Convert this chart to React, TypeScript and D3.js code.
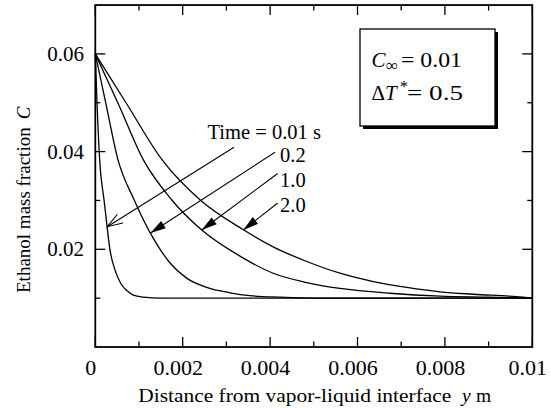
import React from "react";
import * as d3 from "d3";

// ---- data (distance y in m, ethanol mass fraction C) ----
const seriesLabels = ["0.01", "0.2", "1.0", "2.0"];

const curve001: [number, number][] = [
  [0, 0.06], [0.00004, 0.0499], [0.0001, 0.0383], [0.0002, 0.0301], [0.00027, 0.0246],
  [0.000336, 0.0199], [0.00045, 0.0158], [0.00059, 0.0129], [0.00073, 0.0115],
  [0.00087, 0.0106], [0.0011, 0.0102], [0.0015, 0.01], [0.01, 0.01],
];
const curve02: [number, number][] = [
  [0, 0.06], [0.00024, 0.0499], [0.00052, 0.0383], [0.00089, 0.0301], [0.00126, 0.0233],
  [0.00146, 0.0203], [0.00171, 0.0172], [0.00209, 0.0141], [0.00255, 0.0122],
  [0.00308, 0.0111], [0.00354, 0.0105], [0.00423, 0.0102], [0.00514, 0.01], [0.01, 0.01],
];
const curve10: [number, number][] = [
  [0, 0.06], [0.00052, 0.0499], [0.0011, 0.0383], [0.00175, 0.0301], [0.00243, 0.024],
  [0.00331, 0.0186], [0.00407, 0.0151], [0.00484, 0.0132], [0.0056, 0.012],
  [0.00674, 0.011], [0.00789, 0.0104], [0.00903, 0.0102], [0.01, 0.01],
];
const curve20: [number, number][] = [
  [0, 0.06], [0.00071, 0.0499], [0.00153, 0.0383], [0.0024, 0.0301], [0.00339, 0.024],
  [0.00407, 0.0205], [0.00484, 0.0175], [0.0056, 0.0151], [0.00636, 0.0134],
  [0.00713, 0.0122], [0.00789, 0.0113], [0.00865, 0.0108], [0.00964, 0.0103], [0.01, 0.01],
];
const curves = [curve001, curve02, curve10, curve20];

const xTickValues = [0, 0.002, 0.004, 0.006, 0.008, 0.01];
const xTickLabels = ["0", "0.002", "0.004", "0.006", "0.008", "0.01"];
const xMinorTicks = [0.001, 0.003, 0.005, 0.007, 0.009];
const yTickValues = [0.02, 0.04, 0.06];
const yTickLabels = ["0.02", "0.04", "0.06"];
const yMinorTicks = [0.01, 0.03, 0.05];

// annotation arrows: [start, tip] in data units
const arrowStarts: [number, number][] = [
  [0.003174, 0.04088], [0.004112, 0.03985], [0.004173, 0.03551], [0.004173, 0.02948],
];
const arrowTips: [number, number][] = [
  [0.000275, 0.02463], [0.001263, 0.02334], [0.002435, 0.02395], [0.003387, 0.02395],
];
const labelAnchors: [number, number][] = [
  [0.002569, 0.04258], [0.004227, 0.03793], [0.004227, 0.03281], [0.004227, 0.0277],
];

const W = 551, H = 408;
const L = 95.3, R = 532.3, T = 5.05, B = 347;
const FONT = "'Liberation Serif', 'Times New Roman', serif";

export default function App() {
  const x = d3.scaleLinear().domain([0, 0.01]).range([L, R]);
  const y = d3.scaleLinear().domain([0, 0.07]).range([B, T]);
  const line = d3
    .line<[number, number]>()
    .x((d) => x(d[0]))
    .y((d) => y(d[1]))
    .curve(d3.curveMonotoneX);

  const arrows = arrowStarts.map((s, i) => {
    const sx = x(s[0]), sy = y(s[1]);
    const tx = x(arrowTips[i][0]), ty = y(arrowTips[i][1]);
    const ang = Math.atan2(sy - ty, sx - tx);
    const len = 16;
    const spread = i === 0 ? 0.33 : 0.27;
    const p1 = [tx + len * Math.cos(ang + spread), ty + len * Math.sin(ang + spread)];
    const p2 = [tx + len * Math.cos(ang - spread), ty + len * Math.sin(ang - spread)];
    return { sx, sy, tx, ty, p1, p2, open: i === 0 };
  });

  return (
    <svg
      width={W}
      height={H}
      style={{ position: "absolute", left: 0, top: 0, background: "#fff" }}
      fontFamily={FONT}
    >
      <rect x={0} y={0} width={W} height={H} fill="#fff" />
      {/* curves */}
      {curves.map((c, i) => (
        <path key={i} d={line(c) || ""} fill="none" stroke="#000" strokeWidth={1.3} />
      ))}
      {/* frame */}
      <rect x={L} y={T} width={R - L} height={B - T} fill="none" stroke="#000" strokeWidth={1.8} />
      {/* x ticks */}
      {xTickValues.map((v) => (
        <g key={"xt" + v}>
          <line x1={x(v)} x2={x(v)} y1={B} y2={B - 10} stroke="#000" strokeWidth={1.3} />
          <line x1={x(v)} x2={x(v)} y1={T} y2={T + 10} stroke="#000" strokeWidth={1.3} />
        </g>
      ))}
      {xMinorTicks.map((v) => (
        <g key={"xm" + v}>
          <line x1={x(v)} x2={x(v)} y1={B} y2={B - 5.5} stroke="#000" strokeWidth={1.3} />
          <line x1={x(v)} x2={x(v)} y1={T} y2={T + 5.5} stroke="#000" strokeWidth={1.3} />
        </g>
      ))}
      {yTickValues.map((v) => (
        <g key={"yt" + v}>
          <line x1={L} x2={L + 10} y1={y(v)} y2={y(v)} stroke="#000" strokeWidth={1.3} />
          <line x1={R} x2={R - 10} y1={y(v)} y2={y(v)} stroke="#000" strokeWidth={1.3} />
        </g>
      ))}
      {yMinorTicks.map((v) => (
        <g key={"ym" + v}>
          <line x1={L} x2={L + 5} y1={y(v)} y2={y(v)} stroke="#000" strokeWidth={1.3} />
          <line x1={R} x2={R - 5} y1={y(v)} y2={y(v)} stroke="#000" strokeWidth={1.3} />
        </g>
      ))}
      {/* tick labels */}
      {xTickValues.map((v, i) => (
        <text key={"xl" + v} x={x(v) - 4.5} y={375} fontSize={22} textAnchor="middle">
          {xTickLabels[i]}
        </text>
      ))}
      {yTickValues.map((v, i) => (
        <text key={"yl" + v} x={84} y={y(v) + 7} fontSize={21} textAnchor="end">
          {yTickLabels[i]}
        </text>
      ))}
      {/* axis titles */}
      <text x={138.3} y={401.7} fontSize={19.5} textLength={313} lengthAdjust="spacingAndGlyphs">
        Distance from vapor-liquid interface
      </text>
      <text x={462} y={401.7} fontSize={19.5} fontStyle="italic">y</text>
      <text x={476} y={401.7} fontSize={19.5}>m</text>
      <text transform={`translate(30,${293}) rotate(-90)`} fontSize={19}>
        Ethanol mass fraction
        <tspan dx={8} fontStyle="italic">C</tspan>
      </text>
      {/* arrows */}
      {arrows.map((a, i) => (
        <g key={"ar" + i}>
          <line x1={a.sx} y1={a.sy} x2={a.tx} y2={a.ty} stroke="#000" strokeWidth={1.1} />
          {a.open ? (
            <polyline
              points={`${a.p1[0]},${a.p1[1]} ${a.tx},${a.ty} ${a.p2[0]},${a.p2[1]}`}
              fill="none"
              stroke="#000"
              strokeWidth={1.1}
            />
          ) : (
            <polygon
              points={`${a.p1[0]},${a.p1[1]} ${a.tx},${a.ty} ${a.p2[0]},${a.p2[1]}`}
              fill="#000"
            />
          )}
        </g>
      ))}
      {/* annotation labels */}
      <text x={x(labelAnchors[0][0])} y={y(labelAnchors[0][1])} fontSize={20.5}>
        Time = {seriesLabels[0]} s
      </text>
      {[1, 2, 3].map((i) => (
        <text key={"lab" + i} x={x(labelAnchors[i][0])} y={y(labelAnchors[i][1])} fontSize={20.5}>
          {seriesLabels[i]}
        </text>
      ))}
      {/* parameter box */}
      <rect x={363} y={32} width={135} height={97} fill="#000" />
      <rect x={360} y={29} width={135} height={97} fill="#fff" stroke="#000" strokeWidth={1.3} />
      <text x={371.5} y={67} fontSize={21} fontStyle="italic">C</text>
      <text x={386} y={71} fontSize={17}>∞</text>
      <text x={401} y={67} fontSize={21} textLength={61} lengthAdjust="spacingAndGlyphs">
        = 0.01
      </text>
      <text x={371.5} y={100} fontSize={21}>Δ</text>
      <text x={385} y={100} fontSize={21} fontStyle="italic">T</text>
      <text x={400} y={92} fontSize={16}>*</text>
      <text x={407} y={100} fontSize={21} textLength={56} lengthAdjust="spacingAndGlyphs">
        = 0.5
      </text>
    </svg>
  );
}
